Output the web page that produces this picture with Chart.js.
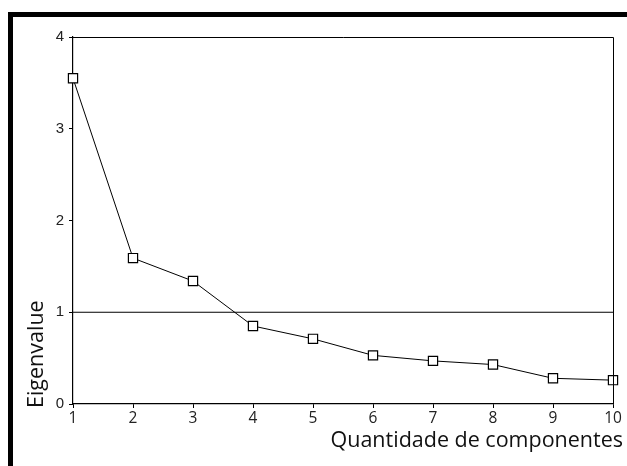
<!DOCTYPE html>
<html>
<head>
<meta charset="utf-8">
<script src="https://cdn.jsdelivr.net/npm/chart.js@4.4.0/dist/chart.umd.min.js"></script>
<style>
  html, body { margin: 0; padding: 0; background: #fff; }
  #wrap { position: relative; width: 627px; height: 466px; }
  #frame {
    position: absolute; left: 8px; top: 12px; right: 0; bottom: 0;
    border-top: 5px solid #000; border-left: 5px solid #000;
  }
  canvas { position: absolute; left: 0; top: 0; }
</style>
</head>
<body>
<div id="wrap">
  <div id="frame"></div>
  <canvas id="scree" width="627" height="466"></canvas>
</div>
<script>
const components = [1, 2, 3, 4, 5, 6, 7, 8, 9, 10];
const eigenvalues = [3.55, 1.59, 1.34, 0.85, 0.71, 0.53, 0.47, 0.43, 0.28, 0.26];
const cutoff = 1;
const yTicks = [0, 1, 2, 3, 4];
const xTitle = "Quantidade de componentes";
const yTitle = "Eigenvalue";

// frame on top/right + axis titles
const extras = {
  id: "extras",
  afterDraw(chart) {
    const { ctx, chartArea: a } = chart;
    ctx.save();
    ctx.strokeStyle = "#000";
    ctx.lineWidth = 1;
    ctx.beginPath();
    ctx.moveTo(a.left, a.top + 0.5);
    ctx.lineTo(a.right + 0.5, a.top + 0.5);
    ctx.lineTo(a.right + 0.5, a.bottom);
    ctx.stroke();

    ctx.fillStyle = "#111";
    ctx.font = "21.5px 'Open Sans'";
    ctx.textAlign = "right";
    ctx.textBaseline = "alphabetic";
    ctx.fillText(xTitle, 623, 447);

    ctx.translate(43, 408);
    ctx.rotate(-Math.PI / 2);
    ctx.textAlign = "left";
    ctx.fillText(yTitle, 0, 0);
    ctx.restore();
  }
};

new Chart(document.getElementById("scree"), {
  type: "line",
  data: {
    datasets: [
      {
        data: components.map((c, i) => ({ x: c, y: eigenvalues[i] })),
        borderColor: "#000",
        borderWidth: 1,
        pointStyle: "rect",
        pointRadius: 6.5,
        pointBackgroundColor: "#fff",
        pointBorderColor: "#000",
        pointBorderWidth: 1.2,
        tension: 0,
        clip: false,
      },
      {
        data: [{ x: components[0], y: cutoff }, { x: components[components.length - 1], y: cutoff }],
        borderColor: "#000",
        borderWidth: 1.2,
        pointRadius: 0,
      },
    ],
  },
  options: {
    responsive: false,
    animation: false,
    layout: { padding: { left: 0, top: 37, right: 14, bottom: 0 } },
    plugins: { legend: { display: false }, tooltip: { enabled: false } },
    scales: {
      x: {
        type: "linear",
        min: 1,
        max: 10,
        afterFit: (s) => { s.height = 62; },
        afterBuildTicks: (s) => { s.ticks = components.map((v) => ({ value: v })); },
        grid: { drawOnChartArea: false, drawTicks: true, tickLength: 4, color: "#000" },
        border: { color: "#000", width: 1.2 },
        ticks: { color: "#222", font: { family: "Open Sans", size: 15.5 }, padding: 1, maxRotation: 0 },
      },
      y: {
        min: 0,
        max: 4,
        afterFit: (s) => { s.width = 73; },
        afterBuildTicks: (s) => { s.ticks = yTicks.map((v) => ({ value: v })); },
        grid: { drawOnChartArea: false, drawTicks: true, tickLength: 4, color: "#000" },
        border: { color: "#000", width: 1.2 },
        ticks: { color: "#222", font: { family: "Liberation Sans", size: 15 }, padding: 5 },
      },
    },
  },
  plugins: [extras],
});
</script>
</body>
</html>
